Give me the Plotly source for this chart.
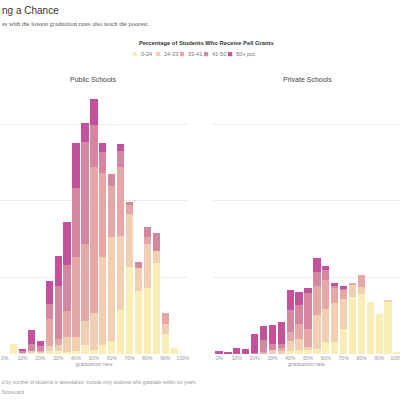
import plotly.graph_objects as go

# graduation-rate bins (percent)
grad_bins = [0, 5, 10, 15, 20, 25, 30, 35, 40, 45, 50, 55, 60, 65, 70, 75, 80, 85, 90, 95, 100]
tick_vals = [0, 10, 20, 30, 40, 50, 60, 70, 80, 90, 100]
tick_text = ["0%", "10%", "20%", "30%", "40%", "50%", "60%", "70%", "80%", "90%", "100%"]

pell_groups = ["0-24", "24-33", "33-41", "41-50", "50+ pct."]
pell_colors = ["#f8eeb6", "#f1cfb2", "#e5a8a7", "#d5879f", "#c4519b"]

# public schools, stacked by share of Pell grant students (weighted student counts)
public_0_24 = [0, 13, 1, 2.1, 1.7, 4.3, 4.3, 3, 3.4, 11.9, 5.6, 12.1, 17.3, 57.8, 113.4, 81.9, 86, 118.6, 26.5, 8.2, 0]
public_24_33 = [0, 0, 0.5, 1.7, 1.3, 6.5, 7.4, 18.6, 18.3, 31.6, 47.8, 115.1, 136, 95.6, 69.1, 30.2, 57.4, 16, 12.6, 0, 0]
public_33_41 = [0, 0, 0.5, 0, 1.3, 35.2, 7.8, 34.8, 104.3, 100, 191.1, 108.7, 66.1, 90.5, 12.1, 0, 9.9, 0, 14.3, 0, 0]
public_41_50 = [0, 0, 1.5, 9.1, 6.5, 19.2, 69.5, 60.4, 90.5, 133.4, 54.4, 27.4, 15.3, 21.6, 3.9, 7.8, 12.6, 23.5, 0, 0, 0]
public_50_plus = [0, 0, 3, 18.3, 6.1, 30.4, 39.5, 55.3, 58.7, 25.2, 33.5, 12.5, 0, 8.7, 0, 0, 0, 0, 0, 0, 0]

# private schools
private_0_24 = [0, 0, 0, 0, 0, 0, 0, 0, 3.9, 5.6, 4.6, 7.1, 15.7, 15.7, 32.3, 74.6, 77.8, 67.7, 52, 68.6, 2.6]
private_24_33 = [0, 0, 0, 0, 0, 0, 5.8, 3.9, 13.1, 13.5, 4.6, 43.6, 42.4, 50.3, 38.9, 16.1, 9.9, 0, 0, 1.7, 0]
private_33_41 = [0, 0, 0, 0, 0, 2.6, 0, 3.9, 11.8, 19.6, 24, 38.4, 38.4, 19.6, 12.2, 2.1, 15.3, 0, 0, 0, 0]
private_41_50 = [1, 0, 0, 0, 1.7, 16.2, 6.9, 5.8, 28.4, 24.9, 46.6, 17.5, 13.1, 3.9, 2.6, 0, 0, 0, 0, 0, 0]
private_50_plus = [2.5, 1.7, 8.3, 6.1, 24, 18.3, 25.8, 27.9, 26.2, 17.4, 6.5, 18.3, 5.6, 2.6, 2.6, 0, 0, 0, 0, 0, 0]

public_series = [public_0_24, public_24_33, public_33_41, public_41_50, public_50_plus]
private_series = [private_0_24, private_24_33, private_33_41, private_41_50, private_50_plus]

W, H = 400, 400
TOP, BOTTOM = 92, 45.7
PLOT_H = H - TOP - BOTTOM
SANS = "Liberation Sans, Arial, sans-serif"
SERIF = "Liberation Serif, Georgia, serif"


def px_x(px):
    return px / W


def px_y(py):
    return (H - BOTTOM - py) / PLOT_H


fig = go.Figure()

for name, color, pub, priv in zip(pell_groups, pell_colors, public_series, private_series):
    fig.add_trace(go.Bar(x=grad_bins, y=pub, name=name, marker=dict(color=color, line=dict(width=0)),
                         xaxis="x", yaxis="y", showlegend=False))
    fig.add_trace(go.Bar(x=grad_bins, y=priv, name=name, marker=dict(color=color, line=dict(width=0)),
                         xaxis="x2", yaxis="y2", showlegend=False))

axis_x = dict(
    tickmode="array", tickvals=tick_vals, ticktext=tick_text,
    tickfont=dict(family=SANS, size=5, color="#999"),
    showgrid=False, zeroline=False, showline=False, ticks="",
    title=dict(text="graduation rate", font=dict(family=SANS, size=5.5, color="#999"), standoff=1),
    automargin=False, fixedrange=True, ticklabeloverflow="allow",
)
axis_y = dict(
    range=[0, PLOT_H / 0.767], tickvals=[100, 200, 300], showticklabels=False,
    showgrid=True, gridcolor="#ececec", gridwidth=0.8, zeroline=False, showline=False,
    automargin=False, fixedrange=True,
)

fig.update_layout(
    width=W, height=H,
    margin=dict(l=0, r=0, t=TOP, b=BOTTOM, autoexpand=False),
    paper_bgcolor="white", plot_bgcolor="white",
    barmode="stack", bargap=0.18,
    xaxis=dict(axis_x, domain=[0, 0.47], range=[-2.64, 102.8]),
    xaxis2=dict(axis_x, domain=[0.5325, 1.0], range=[-3.37, 101.7], anchor="y2"),
    yaxis=dict(axis_y),
    yaxis2=dict(axis_y, anchor="x2"),
    font=dict(family=SANS),
)

annotations = [
    dict(text="ng a Chance", x=px_x(0), y=px_y(10), xanchor="left", yanchor="middle",
         font=dict(family=SANS, size=10, color="#333")),
    dict(text="es with the lowest graduation rates also teach the poorest.", x=px_x(0), y=px_y(23),
         xanchor="left", yanchor="middle", font=dict(family=SERIF, size=6.4, color="#555")),
    dict(text="<b>Percentage of Students Who Receive Pell Grants</b>", x=px_x(206), y=px_y(43),
         xanchor="center", yanchor="middle", font=dict(family=SANS, size=5.8, color="#333")),
    dict(text="Public Schools", x=px_x(93), y=px_y(79), xanchor="center", yanchor="middle",
         font=dict(family=SANS, size=7, color="#444")),
    dict(text="Private Schools", x=px_x(307.5), y=px_y(79), xanchor="center", yanchor="middle",
         font=dict(family=SANS, size=7, color="#444")),
    dict(text="d by number of students in attendance. Include only students who graduate within six years.",
         x=px_x(0), y=px_y(383), xanchor="left", yanchor="middle",
         font=dict(family=SANS, size=4.8, color="#999")),
    dict(text="Scorecard", x=px_x(0), y=px_y(393), xanchor="left", yanchor="middle",
         font=dict(family=SANS, size=4.8, color="#999")),
]

# hand-built legend row
legend_x = [132.7, 156, 180, 204, 228]
shapes = []
for lx, name, color in zip(legend_x, pell_groups, pell_colors):
    shapes.append(dict(type="rect", xref="paper", yref="paper",
                       x0=px_x(lx), x1=px_x(lx + 4.2), y0=px_y(56.2), y1=px_y(52),
                       fillcolor=color, line=dict(width=0)))
    annotations.append(dict(text=name, x=px_x(lx + 6.3), y=px_y(54), xanchor="left", yanchor="middle",
                            font=dict(family=SANS, size=5.6, color="#777")))

for a in annotations:
    a.update(xref="paper", yref="paper", showarrow=False)

fig.update_layout(annotations=annotations, shapes=shapes)

# page body has a default 8px margin; drop it so the 400x400 figure fills the window
fig.write_html("out.html", config={"displayModeBar": False},
               post_script="document.body.style.margin='0';")
